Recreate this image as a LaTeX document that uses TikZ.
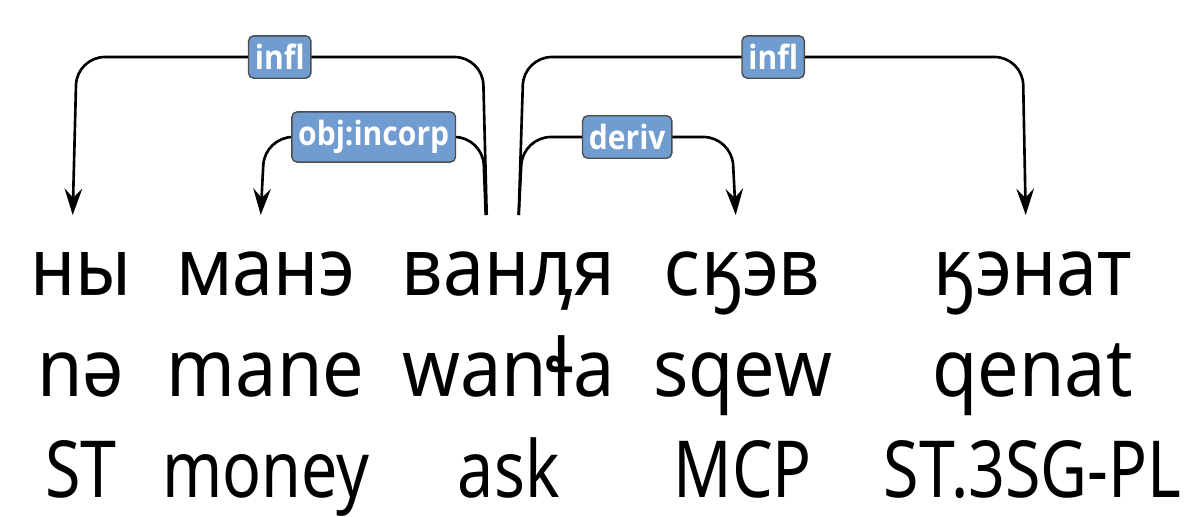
\documentclass[tikz,border=0pt]{standalone}
\usepackage{fontspec}
\setmainfont{Noto Sans}[FakeStretch=0.92]
\newfontfamily\glossfont{Noto Sans}[FakeStretch=0.82]
\newfontfamily\lblfont{Open Sans}[FakeStretch=0.9]
\usepackage{tikz}
\usetikzlibrary{matrix,arrows.meta}

\definecolor{lblblue}{RGB}{112,156,208}

\begin{document}
\begin{tikzpicture}

\tikzset{word matrix/.style={
    matrix of nodes,
    column sep=0pt, row sep=0.29cm,
    inner sep=0pt,
    nodes={
      text height=0.56cm,
      text depth=0.16cm,
      anchor=center,
      align=center,
      inner sep=0pt,
      font=\fontsize{22.8}{26}\selectfont
    },
    column 1/.style={nodes={text width=1.10cm}},
    column 2/.style={nodes={text width=2.60cm}},
    column 3/.style={nodes={text width=2.26cm}},
    column 4/.style={nodes={text width=2.42cm}},
    column 5/.style={nodes={text width=3.38cm}},
    row 3/.style={nodes={font=\glossfont\fontsize{22.4}{26}\selectfont}}
  },
  dep/.style={line width=0.75pt, rounded corners=8pt,
    -{Stealth[length=7.5pt,width=5pt,inset=2.6pt]}},
  lbl/.style={fill=lblblue, draw=black!70, line width=0.4pt,
    rounded corners=1.5pt, inner xsep=1.8pt, inner ysep=2.4pt, text=white,
    font=\lblfont\bfseries\fontsize{9.5}{11}\selectfont}
}

\useasboundingbox (0,0) rectangle (11.97,-5.16);

\matrix[word matrix, anchor=north west] (w) at (0.25,-2.39)
{
ны & манэ & ванӆя & сӄэв & ӄэнат \\
nə & mane & wanɬa & sqew & qenat \\
ST & money & ask & MCP & ST.3SG-PL \\
};

% arcs from the head ванӆя
\draw[dep] ([xshift=-0.22cm,yshift=0.24cm]w-1-3.north)
  -- ([xshift=-0.26cm,yshift=1.82cm]w-1-3.north)
  -- node[lbl]{infl} ([xshift=-0.04cm,yshift=1.82cm]w-1-1.north)
  -- ([xshift=-0.08cm,yshift=0.24cm]w-1-1.north);
\draw[dep] ([xshift=-0.23cm,yshift=0.24cm]w-1-3.north)
  -- ([xshift=-0.26cm,yshift=1.02cm]w-1-3.north)
  -- node[lbl]{obj:incorp} ([xshift=-0.01cm,yshift=1.02cm]w-1-2.north)
  -- ([xshift=-0.05cm,yshift=0.24cm]w-1-2.north);
\draw[dep] ([xshift=0.10cm,yshift=0.24cm]w-1-3.north)
  -- ([xshift=0.14cm,yshift=1.02cm]w-1-3.north)
  -- node[lbl]{deriv} ([xshift=-0.11cm,yshift=1.02cm]w-1-4.north)
  -- ([xshift=-0.07cm,yshift=0.24cm]w-1-4.north);
\draw[dep] ([xshift=0.10cm,yshift=0.24cm]w-1-3.north)
  -- ([xshift=0.15cm,yshift=1.82cm]w-1-3.north)
  -- node[lbl]{infl} ([xshift=-0.10cm,yshift=1.82cm]w-1-5.north)
  -- ([xshift=-0.07cm,yshift=0.24cm]w-1-5.north);

\end{tikzpicture}
\end{document}
